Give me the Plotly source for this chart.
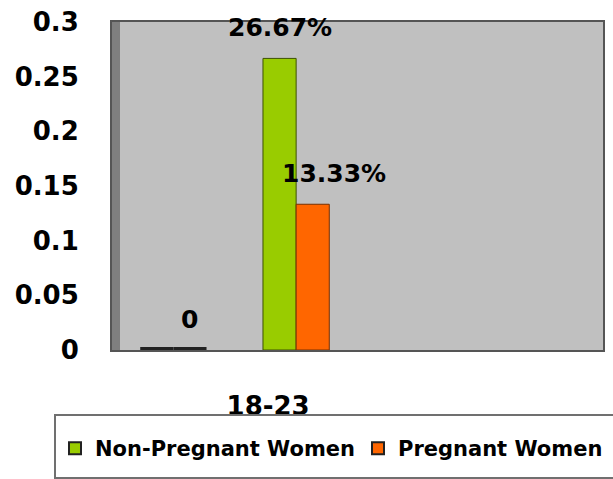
import plotly.graph_objects as go

categories = [0, 1, 2, 3]
tick_labels = ["18-23"]
tick_positions = [1]
non_pregnant = [0, 0.2667, None, None]
pregnant = [0, 0.1333, None, None]
non_pregnant_labels = ["", "26.67%", "", ""]
pregnant_labels = ["0", "13.33%", "", ""]
y_ticks = [0, 0.05, 0.1, 0.15, 0.2, 0.25, 0.3]
y_tick_text = ["0", "0.05", "0.1", "0.15", "0.2", "0.25", "0.3"]

GREEN = "#99CC00"
ORANGE = "#FF6600"
FONT = "DejaVu Sans"
bargap = 0.46
half = (1 - bargap) / 4

fig = go.Figure()
fig.add_trace(go.Bar(
    x=categories, y=non_pregnant, name="Non-Pregnant Women",
    marker=dict(color=GREEN, line=dict(color=["#222222", "#3d5200", "#333333", "#333333"], width=[6, 1, 1, 1])),
))
fig.add_trace(go.Bar(
    x=categories, y=pregnant, name="Pregnant Women",
    marker=dict(color=ORANGE, line=dict(color=["#222222", "#7a3000", "#333333", "#333333"], width=[6, 1, 1, 1])),
))

annotations = []
label_xshift = {"26.67%": 0, "13.33%": 21, "0": 0}
for i, (v, t) in enumerate(zip(non_pregnant, non_pregnant_labels)):
    if t:
        annotations.append(dict(x=categories[i] - half, y=v, text=t, showarrow=False,
                                yshift=31, xshift=label_xshift.get(t, 0),
                                font=dict(family=FONT, size=25, color="black", weight="bold")))
for i, (v, t) in enumerate(zip(pregnant, pregnant_labels)):
    if t:
        annotations.append(dict(x=categories[i] + half, y=v, text=t, showarrow=False,
                                yshift=31, xshift=label_xshift.get(t, 0),
                                font=dict(family=FONT, size=25, color="black", weight="bold")))

L, T, W, H = 112, 22, 613, 479
pw, ph = 491, 328
bottom_px = T + ph
shapes = [
    # left 3D wall
    dict(type="rect", xref="paper", yref="paper", x0=0, x1=8 / pw, y0=0, y1=1,
         fillcolor="#7f7f7f", line=dict(width=0), layer="below"),
    # legend box
    dict(type="rect", xref="paper", yref="paper", x0=(55 - L) / pw, x1=(640 - L) / pw,
         y0=(bottom_px - 478) / ph, y1=(bottom_px - 415) / ph,
         line=dict(color="#707070", width=2), fillcolor="rgba(0,0,0,0)"),
]

fig.update_layout(
    width=W, height=H,
    margin=dict(l=L, r=W - L - pw, t=T, b=H - T - ph, autoexpand=False),
    paper_bgcolor="white", plot_bgcolor="#C0C0C0",
    barmode="group", bargap=bargap, bargroupgap=0,
    font=dict(family=FONT, color="black"),
    showlegend=True,
    legend=dict(orientation="h", x=(55 - L) / pw, xanchor="left", y=(bottom_px - 428) / ph, yanchor="top",
                font=dict(family=FONT, size=21, color="black", weight="bold"),
                entrywidth=258, bgcolor="rgba(0,0,0,0)", borderwidth=0,
                itemsizing="constant"),
    annotations=annotations,
    shapes=shapes,
)
fig.update_xaxes(range=[-0.5, 3.5], tickmode="array", tickvals=tick_positions, ticktext=tick_labels,
                 showgrid=False, zeroline=False, showline=True, mirror=True,
                 linecolor="#555555", linewidth=2, ticks="",
                 ticklabelstandoff=32, ticklabelshift=-28,
                 tickfont=dict(family=FONT, size=26, color="black", weight="bold"))
fig.update_yaxes(range=[0, 0.3], tickmode="array", tickvals=y_ticks, ticktext=y_tick_text,
                 showgrid=False, zeroline=False, showline=True, mirror=True,
                 linecolor="#555555", linewidth=2, ticks="",
                 ticklabelstandoff=26,
                 tickfont=dict(family=FONT, size=26, color="black", weight="bold"))

fig.write_html("out.html")
